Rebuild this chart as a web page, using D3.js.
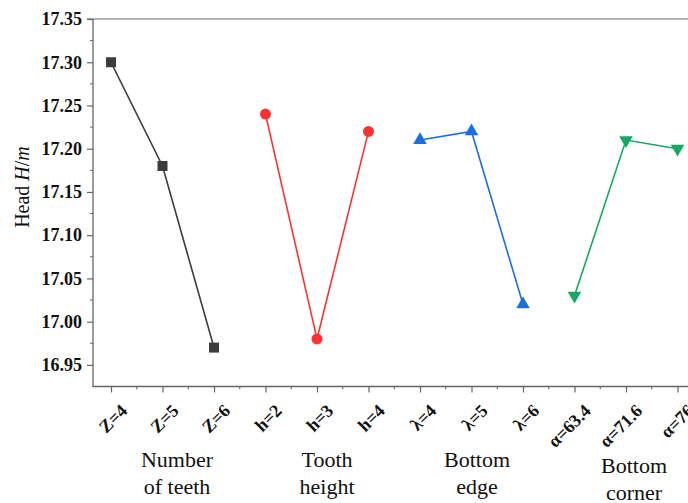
<!DOCTYPE html>
<html>
<head>
<meta charset="utf-8">
<script src="https://cdn.jsdelivr.net/npm/d3@7"></script>
<style>
  html, body { margin: 0; padding: 0; background: #fff; }
  svg { display: block; }
</style>
</head>
<body>
<svg id="chart" width="688" height="503"></svg>
<script>
// Factor levels and the mean head at each level
const teethLevels = ["Z=4", "Z=5", "Z=6"];
const teethHead = [17.30, 17.18, 16.97];
const heightLevels = ["h=2", "h=3", "h=4"];
const heightHead = [17.24, 16.98, 17.22];
const edgeLevels = ["λ=4", "λ=5", "λ=6"];
const edgeHead = [17.21, 17.22, 17.02];
const cornerLevels = ["α=63.4", "α=71.6", "α=76"];
const cornerHead = [17.03, 17.21, 17.20];

const groupNames = [["Number", "of teeth"], ["Tooth", "height"], ["Bottom", "edge"], ["Bottom", "corner"]];
const yTicks = [16.95, 17.00, 17.05, 17.10, 17.15, 17.20, 17.25, 17.30, 17.35];

const groups = [
  { levels: teethLevels, values: teethHead, color: "#3c3c3c", symbol: d3.symbolSquare, size: 100, rot: 0 },
  { levels: heightLevels, values: heightHead, color: "#ff3030", symbol: d3.symbolCircle, size: 95, rot: 0 },
  { levels: edgeLevels, values: edgeHead, color: "#1a6fe0", symbol: d3.symbolTriangle, size: 80, rot: 0 },
  { levels: cornerLevels, values: cornerHead, color: "#16a862", symbol: d3.symbolTriangle, size: 80, rot: 180 }
];

const allLevels = groups.flatMap(g => g.levels);

const svg = d3.select("#chart");
const plotLeft = 93, plotTop = 19, plotBottom = 386.5, plotRight = 700;

const x = d3.scaleLinear().domain([0, allLevels.length - 1]).range([111, 677.5]);
const y = d3.scaleLinear().domain([16.925, 17.35]).range([plotBottom, plotTop]);

// frame: top edge
svg.append("line")
  .attr("x1", 87).attr("x2", plotRight).attr("y1", plotTop).attr("y2", plotTop)
  .attr("stroke", "#999").attr("stroke-width", 1.5);

// y axis
const yAxis = d3.axisLeft(y).tickValues(yTicks).tickFormat(d3.format(".2f")).tickSize(6).tickPadding(5);
const gy = svg.append("g").attr("transform", `translate(${plotLeft},0)`).call(yAxis);
gy.select(".domain").remove();
gy.selectAll(".tick line").attr("stroke", "#666").attr("stroke-width", 1.2);
gy.selectAll(".tick text")
  .attr("font-family", "'Liberation Serif', 'Times New Roman', serif")
  .attr("font-weight", "bold").attr("font-size", 18).attr("fill", "#111");
const yMinor = d3.range(16.975, 17.35, 0.05);
svg.append("g").selectAll("line").data(yMinor).join("line")
  .attr("x1", plotLeft - 3).attr("x2", plotLeft)
  .attr("y1", d => y(d)).attr("y2", d => y(d))
  .attr("stroke", "#666").attr("stroke-width", 1);
svg.append("line")
  .attr("x1", plotLeft).attr("x2", plotLeft).attr("y1", plotTop).attr("y2", plotBottom)
  .attr("stroke", "#666").attr("stroke-width", 1.3);

// x axis
const xIdx = d3.range(allLevels.length);
const xAxis = d3.axisBottom(x).tickValues(xIdx).tickFormat(() => "").tickSize(6);
const gx = svg.append("g").attr("transform", `translate(0,${plotBottom})`).call(xAxis);
gx.select(".domain").remove();
gx.selectAll(".tick line").attr("stroke", "#666").attr("stroke-width", 1.2);
svg.append("g").selectAll("line").data(xIdx.map(i => i + 0.5)).join("line")
  .attr("x1", d => x(d)).attr("x2", d => x(d))
  .attr("y1", plotBottom).attr("y2", plotBottom + 3)
  .attr("stroke", "#666").attr("stroke-width", 1);
svg.append("line")
  .attr("x1", plotLeft - 0.6).attr("x2", plotRight).attr("y1", plotBottom).attr("y2", plotBottom)
  .attr("stroke", "#666").attr("stroke-width", 1.3);

// rotated level labels
svg.append("g").selectAll("text").data(allLevels).join("text")
  .attr("transform", (d, i) => `translate(${x(i) + 13},${plotBottom + 21}) rotate(-45)`)
  .attr("text-anchor", "end")
  .attr("dy", "0.35em")
  .attr("font-family", "'Liberation Serif', 'Times New Roman', serif")
  .attr("font-weight", "bold").attr("font-size", 18).attr("fill", "#111")
  .text(d => d);

// factor names under each group
const groupCenters = [177, 327, 477, 634];
const groupTops = [467, 467, 467, 473];
groupNames.forEach((lines, gi) => {
  const t = svg.append("text")
    .attr("x", groupCenters[gi]).attr("y", groupTops[gi])
    .attr("text-anchor", "middle")
    .attr("font-family", "'Liberation Serif', 'Times New Roman', serif")
    .attr("font-size", 22).attr("fill", "#111");
  lines.forEach((s, li) => {
    t.append("tspan").attr("x", groupCenters[gi]).attr("dy", li === 0 ? 0 : 27).text(s);
  });
});

// y axis title
const yt = svg.append("text")
  .attr("transform", "translate(29,187) rotate(-90)")
  .attr("text-anchor", "middle")
  .attr("font-family", "'Liberation Serif', 'Times New Roman', serif")
  .attr("font-size", 20).attr("fill", "#111");
yt.append("tspan").text("Head ");
yt.append("tspan").attr("font-style", "italic").text("H");
yt.append("tspan").text("/");
yt.append("tspan").attr("font-style", "italic").text("m");

// lines and markers
let offset = 0;
groups.forEach(g => {
  const pts = g.values.map((v, i) => [x(offset + i), y(v)]);
  svg.append("path")
    .attr("d", d3.line()(pts))
    .attr("fill", "none").attr("stroke", g.color).attr("stroke-width", 1.6);
  svg.append("g").selectAll("path").data(pts).join("path")
    .attr("transform", p => `translate(${p[0]},${p[1]}) rotate(${g.rot})`)
    .attr("d", d3.symbol().type(g.symbol).size(g.size))
    .attr("fill", g.color);
  offset += g.levels.length;
});
</script>
</body>
</html>
